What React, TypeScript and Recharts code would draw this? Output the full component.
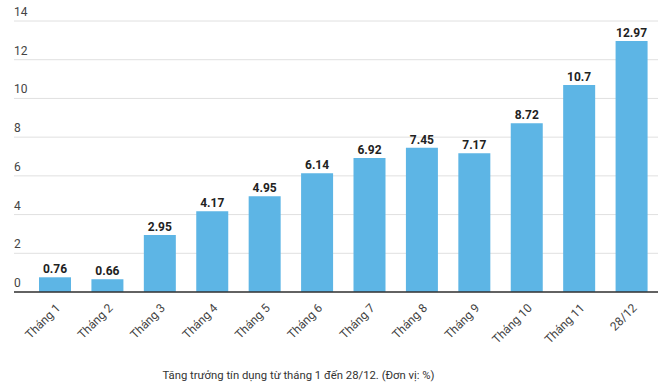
import React from "react";
import { BarChart, Bar, XAxis, YAxis, CartesianGrid, LabelList } from "recharts";

const categories = ["Tháng 1", "Tháng 2", "Tháng 3", "Tháng 4", "Tháng 5", "Tháng 6", "Tháng 7", "Tháng 8", "Tháng 9", "Tháng 10", "Tháng 11", "28/12"];
const growth = [0.76, 0.66, 2.95, 4.17, 4.95, 6.14, 6.92, 7.45, 7.17, 8.72, 10.7, 12.97];
const yTicks = [0, 2, 4, 6, 8, 10, 12, 14];
const caption = "Tăng trưởng tín dụng từ tháng 1 đến 28/12. (Đơn vị: %)";

const data = categories.map((c, i) => ({ name: c, value: growth[i] }));

const FONT = "Roboto, 'Noto Sans', Arial, sans-serif";

const YTick = (props: any) => {
  const { y, payload } = props;
  return (
    <text x={14} y={y - 5} fontSize={12} fill="#444" fontFamily={FONT} textAnchor="start">
      {payload.value}
    </text>
  );
};

const XTick = (props: any) => {
  const { x, y, payload } = props;
  return (
    <g transform={`translate(${x + 3},${y + 6})`}>
      <text x={0} y={0} dy={4} fontSize={12} fill="#444" fontFamily={FONT} textAnchor="end" transform="rotate(-45)">
        {payload.value}
      </text>
    </g>
  );
};

export default function App() {
  return (
    <div style={{ position: "absolute", left: 0, top: 0, width: 660, height: 390, background: "#fff" }}>
      <BarChart
        width={660}
        height={390}
        data={data}
        margin={{ top: 21, right: 2, bottom: 38, left: 4 }}
      >
        <CartesianGrid vertical={false} stroke="#e0e0e0" strokeWidth={1} />
        <XAxis
          dataKey="name"
          interval={0}
          tickLine={false}
          axisLine={{ stroke: "#333", strokeWidth: 1.5 }}
          height={60}
          padding={{ left: 15, right: 0 }}
          tick={<XTick />}
        />
        <YAxis
          width={10}
          domain={[0, 14]}
          ticks={yTicks}
          axisLine={false}
          tickLine={false}
          tick={<YTick />}
        />
        <Bar dataKey="value" fill="#5db5e5" barSize={32} isAnimationActive={false}>
          <LabelList
            dataKey="value"
            position="top"
            offset={4}
            fontSize={12}
            fontWeight="bold"
            fill="#222"
            fontFamily={FONT}
          />
        </Bar>
      </BarChart>
      <div
        style={{
          position: "absolute",
          left: 0,
          width: 597,
          top: 369,
          textAlign: "center",
          fontFamily: FONT,
          fontSize: 11.3,
          color: "#333",
          lineHeight: "13px",
        }}
      >
        {caption}
      </div>
    </div>
  );
}
